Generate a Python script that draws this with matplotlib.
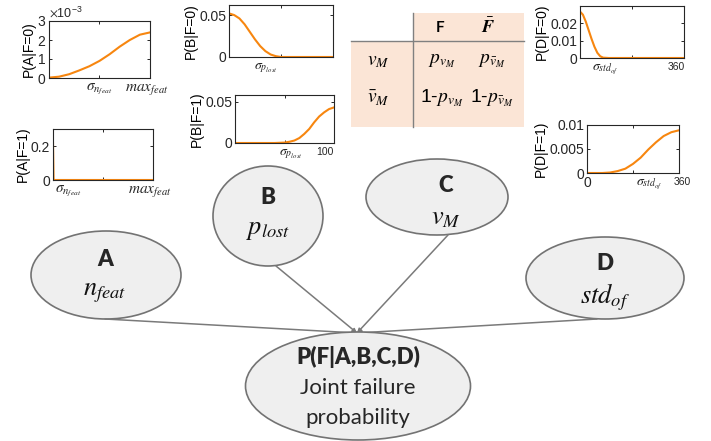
import matplotlib
matplotlib.use('Agg')
import matplotlib.pyplot as plt
from matplotlib.patches import Ellipse, Rectangle
from matplotlib.ticker import ScalarFormatter

plt.rcParams['mathtext.fontset'] = 'stix'
plt.rcParams['font.family'] = ['Liberation Sans', 'DejaVu Sans']

W, H = 711, 441

# --- curves ---
a0_x = [0, .1, .2, .3, .4, .5, .6, .7, .8, .9, 1]
a0_y = [0.02e-3, 0.07e-3, 0.2e-3, 0.4e-3, 0.62e-3, 0.9e-3, 1.25e-3, 1.65e-3, 2.0e-3, 2.28e-3, 2.4e-3]
a1_x = [0, 0.006, 1]
a1_y = [0.22, 0, 0]
b0_x = [0, 5, 10, 15, 20, 25, 30, 35, 40, 45, 50, 100]
b0_y = [0.052, 0.050, 0.046, 0.039, 0.030, 0.021, 0.013, 0.007, 0.003, 0.001, 0.0, 0.0]
b1_x = [0, 40, 50, 55, 60, 65, 70, 75, 80, 85, 90, 95, 100]
b1_y = [0, 0, 0.0005, 0.0015, 0.003, 0.006, 0.011, 0.017, 0.025, 0.032, 0.037, 0.041, 0.043]
d0_x = [0, 10, 20, 30, 40, 50, 60, 70, 80, 100, 360]
d0_y = [0.0268, 0.025, 0.021, 0.016, 0.011, 0.0065, 0.003, 0.001, 0.0002, 0, 0]
d1_x = [0, 60, 90, 120, 150, 180, 210, 240, 270, 300, 330, 360]
d1_y = [0, 0, 0.0001, 0.0004, 0.0009, 0.0019, 0.0032, 0.0049, 0.0064, 0.0077, 0.0085, 0.0089]

# --- node / table texts ---
node_letters = ['A', 'B', 'C', 'D']
node_syms = [r'$n_{feat}$', r'$p_{lost}$', r'$v_M$', r'$std_{of}$']
joint_lines = ['P(F|A,B,C,D)', 'Joint failure', 'probability']
tab_head = ['F', r'$\bar{\mathbfit{F}}$']
tab_rows = [r'$v_M$', r'$\bar{v}_M$']
tab_cells = [[r'$p_{v_M}$', r'$p_{\bar{v}_M}$'],
             [r'1-$p_{v_M}$', r'1-$p_{\bar{v}_M}$']]

ORANGE = '#f7860f'
fig = plt.figure(figsize=(W / 100, H / 100), dpi=100)
bg = fig.add_axes([0, 0, 1, 1])
bg.set_xlim(0, W)
bg.set_ylim(H, 0)
bg.axis('off')

# table
pink = '#fbe5d6'
bg.add_patch(Rectangle((413, 13), 111, 28, color=pink, lw=0))
bg.add_patch(Rectangle((351, 41), 173, 86, color=pink, lw=0))
bg.plot([413, 413], [13, 127], color='#808080', lw=1)
bg.plot([351, 524], [41, 41], color='#808080', lw=1)
bg.text(440, 28, tab_head[0], ha='center', va='center', fontsize=11,
        fontweight='bold', family=['Lato', 'DejaVu Sans'])
bg.text(488, 27, tab_head[1], ha='center', va='center', fontsize=13)
for i, r in enumerate(tab_rows):
    y = 61 + i * 37
    bg.text(378, y, r, ha='center', va='center', fontsize=14)
    bg.text(442, y, tab_cells[i][0], ha='center', va='center', fontsize=14)
    bg.text(492, y, tab_cells[i][1], ha='center', va='center', fontsize=14)

# nodes
node_geo = [(106, 275, 150, 88), (268, 216, 110, 100), (437, 197, 142, 76), (605, 278, 158, 82)]
letter_pos = [(105, 260), (268, 198), (446, 185), (605, 263)]
sym_pos = [(105, 293), (268, 230), (446, 218), (605, 297)]
edge_start = [(105, 319), (276, 266), (448, 235), (597, 319)]
tip = (357, 333)

for (x0, y0) in edge_start:
    bg.annotate('', xy=tip, xytext=(x0, y0),
                arrowprops=dict(arrowstyle='-|>', color='#7a7a7a', lw=1.1,
                                mutation_scale=6, shrinkA=0, shrinkB=0))

for k in range(4):
    cx, cy, w, h = node_geo[k]
    bg.add_patch(Ellipse((cx, cy), w, h, facecolor='#efefef', edgecolor='#737373', lw=1.2))
    bg.text(*letter_pos[k], node_letters[k], ha='center', va='center', fontsize=16,
            fontweight='heavy', color='#262626', family=['Lato', 'DejaVu Sans'])
    bg.text(*sym_pos[k], node_syms[k], ha='center', va='center', fontsize=19, color='#111111')

bg.add_patch(Ellipse((358, 386), 225, 108, facecolor='#efefef', edgecolor='#737373', lw=1.2, zorder=3))
bg.text(358, 357, joint_lines[0], ha='center', va='center', fontsize=16, fontweight='heavy',
        color='#262626', family=['Lato', 'DejaVu Sans'], zorder=4)
bg.text(358, 388, joint_lines[1], ha='center', va='center', fontsize=16,
        color='#262626', family=['Lato', 'DejaVu Sans'], zorder=4)
bg.text(358, 418, joint_lines[2], ha='center', va='center', fontsize=16,
        color='#262626', family=['Lato', 'DejaVu Sans'], zorder=4)


def small_axes(x0, y0, x1, y1):
    ax = fig.add_axes([x0 / W, 1 - y1 / H, (x1 - x0) / W, (y1 - y0) / H])
    ax.tick_params(direction='in', top=True, right=True, length=2.5, width=0.7,
                   labelsize=10, pad=2, colors='#262626')
    for s in ax.spines.values():
        s.set_color('#262626')
        s.set_linewidth(0.8)
    return ax


def under(ax, fx, s, size=9, dy=-3):
    ax.annotate(s, xy=(fx, 0), xycoords='axes fraction', xytext=(0, dy),
                textcoords='offset points', ha='center', va='top', fontsize=size,
                color='#262626')


# P(A|F=0)
ax = small_axes(49, 21, 150, 78)
ax.plot(a0_x, a0_y, color=ORANGE, lw=1.5)
ax.set_xlim(0, 1)
ax.set_ylim(0, 3e-3)
ax.set_yticks([0, 1e-3, 2e-3, 3e-3])
fmt = ScalarFormatter(useMathText=True)
fmt.set_powerlimits((0, 0))
ax.yaxis.set_major_formatter(fmt)
ax.yaxis.get_offset_text().set_fontsize(9)
ax.set_xticks([0.5, 1], ['', ''])
under(ax, 0.5, r'$\sigma_{n_{feat}}$', 11)
under(ax, 0.97, r'$max_{feat}$', 11)
ax.set_ylabel('P(A|F=0)', fontsize=10, labelpad=1)

# P(A|F=1)
ax = small_axes(53, 129, 153, 180)
ax.plot(a1_x, a1_y, color=ORANGE, lw=1.5)
ax.set_xlim(0, 1)
ax.set_ylim(0, 0.3)
ax.set_yticks([0, 0.2], ['0', '0.2'])
ax.set_xticks([0, 0.5, 1], ['', '', ''])
under(ax, 0.15, r'$\sigma_{n_{feat}}$', 11)
under(ax, 0.97, r'$max_{feat}$', 11)
ax.set_ylabel('P(A|F=1)', fontsize=10, labelpad=1)

# P(B|F=0)
ax = small_axes(229, 5, 333, 57)
ax.plot(b0_x, b0_y, color=ORANGE, lw=1.5)
ax.set_xlim(0, 100)
ax.set_ylim(0, 0.062)
ax.set_yticks([0, 0.05], ['0', '0.05'])
ax.set_xticks([0, 50, 100], ['', '', ''])
under(ax, 0.35, r'$\sigma_{p_{lost}}$', 10)
ax.set_ylabel('P(B|F=0)', fontsize=10, labelpad=1)

# P(B|F=1)
ax = small_axes(235, 95, 334, 143)
ax.plot(b1_x, b1_y, color=ORANGE, lw=1.5)
ax.set_xlim(0, 100)
ax.set_ylim(0, 0.058)
ax.set_yticks([0, 0.05], ['0', '0.05'])
ax.set_xticks([0, 50, 100], ['', '', ''])
under(ax, 0.56, r'$\sigma_{p_{lost}}$', 10)
under(ax, 0.91, '100', 7.5)
ax.set_ylabel('P(B|F=1)', fontsize=10, labelpad=1)

# P(D|F=0)
ax = small_axes(580, 6, 684, 58)
ax.plot(d0_x, d0_y, color=ORANGE, lw=1.5)
ax.set_xlim(0, 360)
ax.set_ylim(0, 0.03)
ax.set_yticks([0, 0.01, 0.02], ['0', '0.01', '0.02'])
ax.set_xticks([0, 180, 360], ['', '', ''])
under(ax, 0.24, r'$\sigma_{std_{of}}$', 10)
under(ax, 0.93, '360', 7.5)
ax.set_ylabel('P(D|F=0)', fontsize=10, labelpad=1)

# P(D|F=1)
ax = small_axes(587, 125, 679, 173)
ax.plot(d1_x, d1_y, color=ORANGE, lw=1.5)
ax.set_xlim(0, 360)
ax.set_ylim(0, 0.01)
ax.set_yticks([0, 0.005, 0.01], ['0', '0.005', '0.01'])
ax.set_xticks([0, 180, 360], ['', '', ''])
under(ax, 0.0, '0', 10, dy=-2)
under(ax, 0.68, r'$\sigma_{std_{of}}$', 10)
under(ax, 1.04, '360', 7.5)
ax.set_ylabel('P(D|F=1)', fontsize=10, labelpad=1)

fig.savefig('out.png', dpi=100)
